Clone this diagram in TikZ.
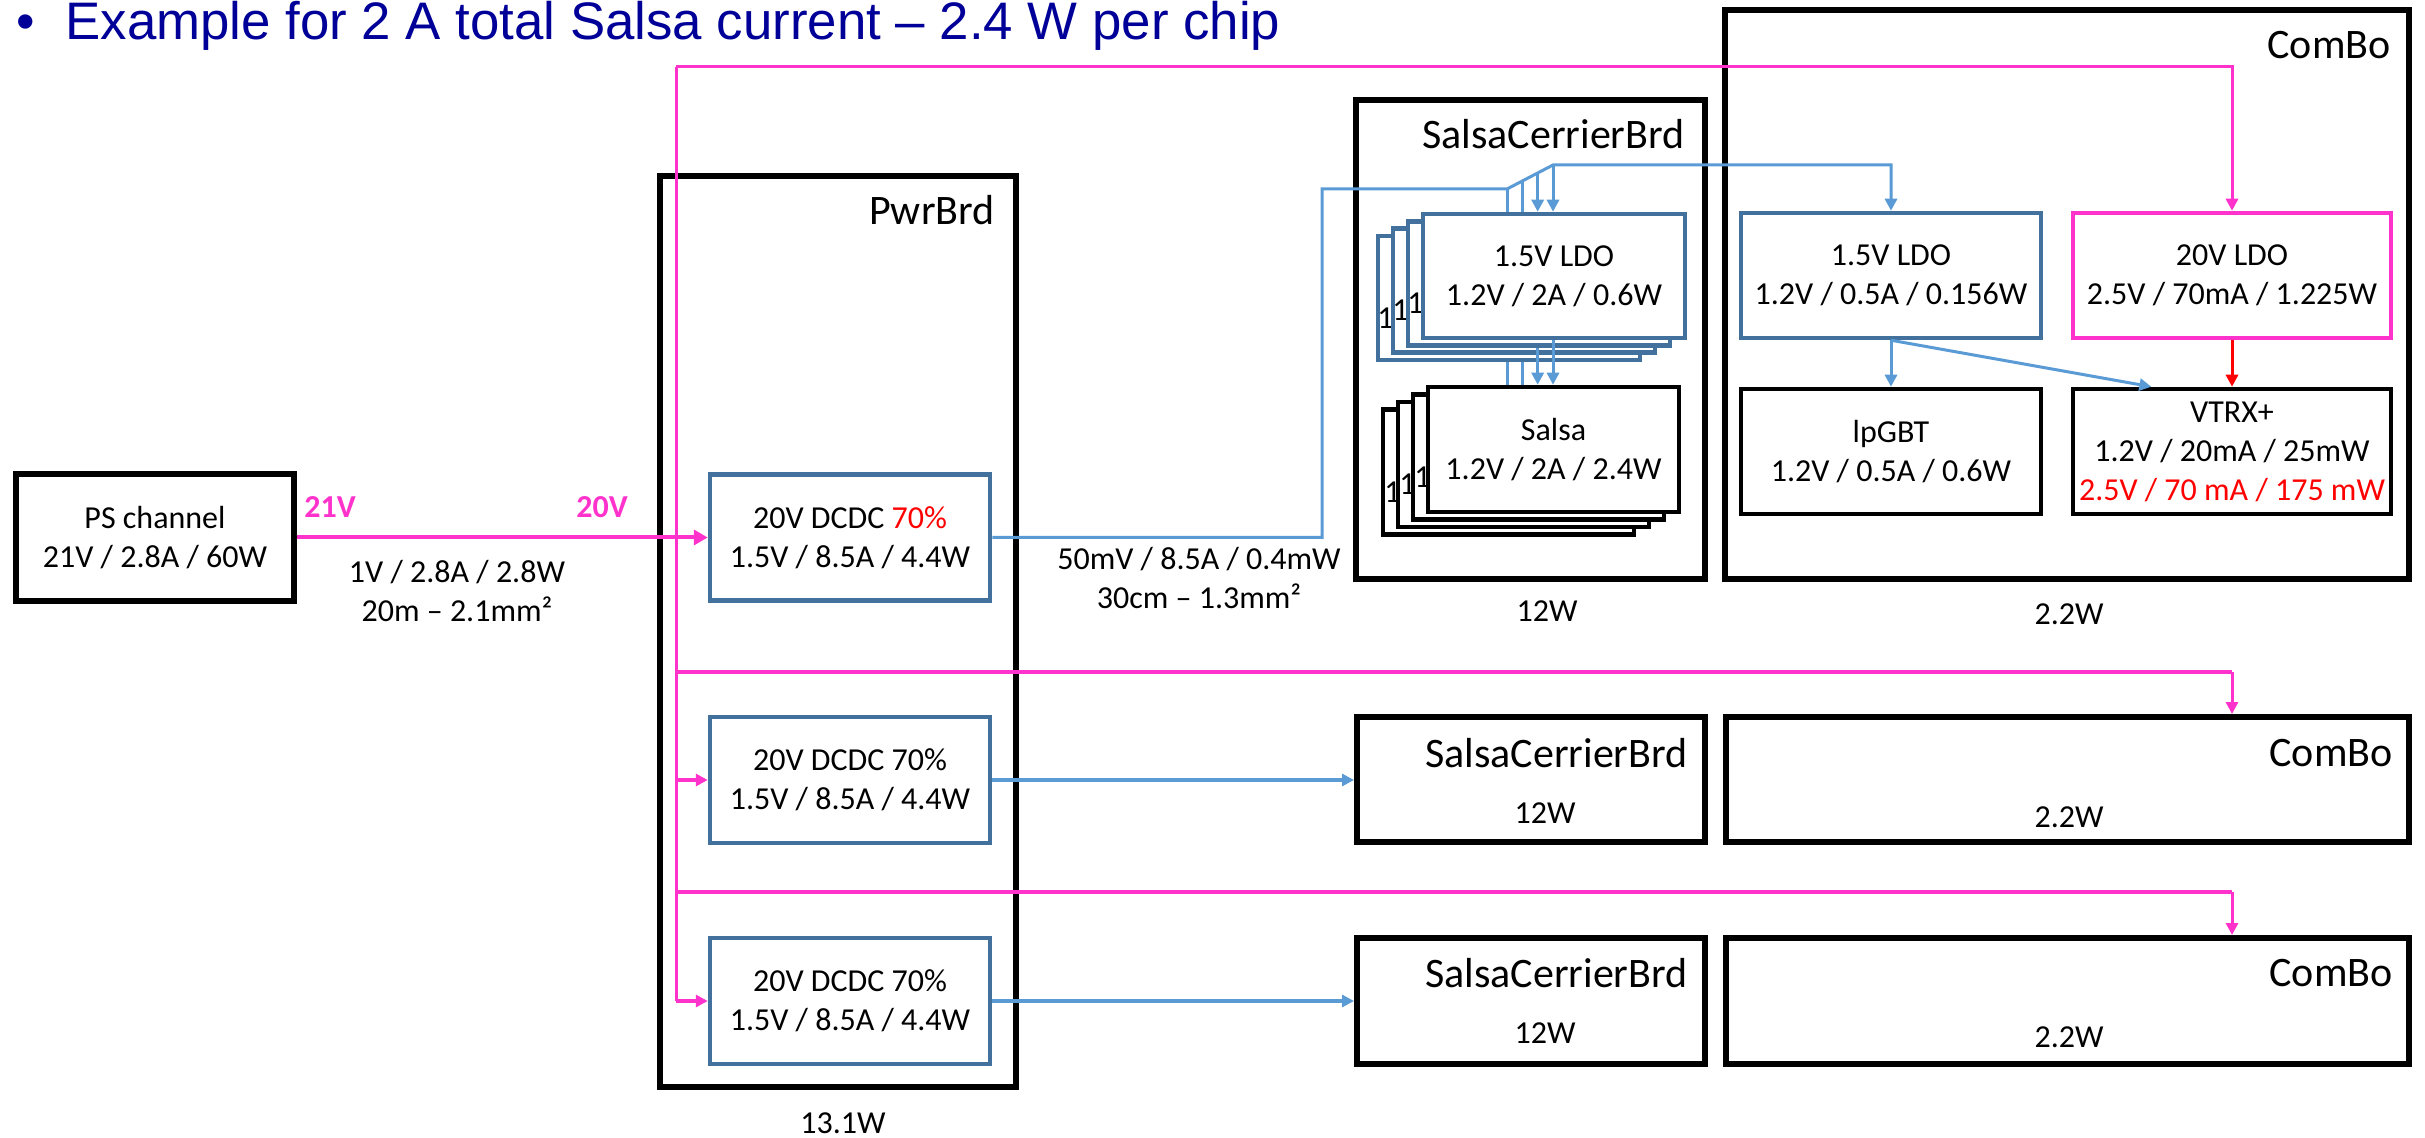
\documentclass[tikz,border=0pt]{standalone}
\usepackage{fontspec}
\setmainfont{Carlito}
\newfontfamily\titlefont{Liberation Sans}
\usetikzlibrary{arrows.meta,calc}
\definecolor{pwrpink}{HTML}{FF33CC}
\definecolor{feedblue}{HTML}{5B9BD5}
\definecolor{regblue}{HTML}{41719C}
\definecolor{titleblue}{HTML}{000099}
\tikzset{
  board/.style={draw=black, line width=3pt, fill=white, rectangle, inner sep=0pt},
  chip/.style={draw=black, line width=2.25pt, fill=white, rectangle, inner sep=0pt,
    align=center, font=\fontsize{16}{19.5}\selectfont},
  regbox/.style={chip, draw=regblue},
  hvbox/.style={chip, draw=pwrpink},
  boardlbl/.style={anchor=east, inner sep=0pt, font=\fontsize{21}{25}\selectfont},
  txt/.style={inner sep=0pt, align=center, font=\fontsize{16}{19.5}\selectfont},
  peek/.style={anchor=west, inner sep=0pt, font=\fontsize{16}{19.5}\selectfont},
  pink/.style={draw=pwrpink, line width=1.5pt},
  pinkbold/.style={draw=pwrpink, line width=2pt},
  feed/.style={draw=feedblue, line width=1.5pt},
  arrowed/.style={-{Triangle[length=6pt,width=6pt]}},
  bigarrowed/.style={-{Triangle[length=7pt,width=7.5pt]}},
}
\begin{document}
\begin{tikzpicture}[x=0.5pt,y=-0.5pt]
\fill[white] (0,0) rectangle (2425,1138);
\useasboundingbox (0,0) rectangle (2425,1138);

% heading
\node[anchor=base, inner sep=0pt, text=titleblue, font=\titlefont\fontsize{26.4}{30}\selectfont] (bullet) at (26,40) {•};
\node[anchor=base west, inner sep=0pt, text=titleblue, font=\titlefont\fontsize{26.4}{30}\selectfont] (title) at (65,40)
  {Example for 2 A total Salsa current – 2.4 W per chip};

% power supply
\node[chip, line width=3pt, minimum width=139pt, minimum height=63.5pt] (ps) at (155,537.5)
  {PS channel\\21V / 2.8A / 60W};

% boards
\node[board, minimum width=178pt, minimum height=455.5pt] (pwr) at (838,631.5) {};
\node[boardlbl] (pwr-t) at (995,210) {PwrBrd};
\node[txt] (pwr-w) at (843,1123) {13.1W};

\node[board, minimum width=174.5pt, minimum height=239.5pt] (scb1) at (1530.5,339.5) {};
\node[boardlbl] (scb1-t) at (1685,134) {SalsaCerrierBrd};
\node[txt] (scb1-w) at (1547,611) {12W};

\node[board, minimum width=342pt, minimum height=284.5pt] (cb1) at (2067,294.5) {};
\node[boardlbl] (cb1-t) at (2391,45) {ComBo};
\node[txt] (cb1-w) at (2069,614) {2.2W};

\node[board, minimum width=174pt, minimum height=62.5pt] (scb2) at (1531,779.5) {};
\node[boardlbl] (scb2-t) at (1688,753) {SalsaCerrierBrd};
\node[txt] (scb2-w) at (1545,813) {12W};
\node[board, minimum width=341.5pt, minimum height=62.5pt] (cb2) at (2067.5,779.5) {};
\node[boardlbl] (cb2-t) at (2393,753) {ComBo};
\node[txt] (cb2-w) at (2069,817) {2.2W};

\node[board, minimum width=174pt, minimum height=63pt] (scb3) at (1531,1001) {};
\node[boardlbl] (scb3-t) at (1688,973) {SalsaCerrierBrd};
\node[txt] (scb3-w) at (1545,1033) {12W};
\node[board, minimum width=341.5pt, minimum height=63pt] (cb3) at (2067.5,1001) {};
\node[boardlbl] (cb3-t) at (2393,973) {ComBo};
\node[txt] (cb3-w) at (2069,1037) {2.2W};

% DC-DC converters
\node[regbox, minimum width=140pt, minimum height=63pt] (dc1) at (850,537.5)
  {20V DCDC \textcolor{red}{70\%}\\1.5V / 8.5A / 4.4W};
\node[regbox, minimum width=140pt, minimum height=63pt] (dc2) at (850,780)
  {20V DCDC 70\%\\1.5V / 8.5A / 4.4W};
\node[regbox, minimum width=140pt, minimum height=63pt] (dc3) at (850,1001)
  {20V DCDC 70\%\\1.5V / 8.5A / 4.4W};

% stacked LDOs on the carrier board, back to front
\node[regbox, minimum width=131pt, minimum height=62pt] (ldo3) at (1509,297.9) {};
\node[peek] (ldo3-p) at (1377,318) {1};
\node[regbox, minimum width=131pt, minimum height=62pt] (ldo2) at (1524,290.6) {};
\node[peek] (ldo2-p) at (1392,310.6) {1};
\node[regbox, minimum width=131pt, minimum height=62pt] (ldo1) at (1539,283.3) {};
\node[peek] (ldo1-p) at (1407,303.3) {1};
\node[regbox, minimum width=131pt, minimum height=62pt] (ldo0) at (1554,276)
  {1.5V LDO\\1.2V / 2A / 0.6W};

% stacked Salsa chips, back to front
\node[chip, minimum width=125.5pt, minimum height=62.5pt] (salsa3) at (1508.5,472) {};
\node[peek] (salsa3-p) at (1384,492) {1};
\node[chip, minimum width=125.5pt, minimum height=62.5pt] (salsa2) at (1523.5,464.5) {};
\node[peek] (salsa2-p) at (1399,484.5) {1};
\node[chip, minimum width=125.5pt, minimum height=62.5pt] (salsa1) at (1538.5,457) {};
\node[peek] (salsa1-p) at (1414,477) {1};
\node[chip, minimum width=125.5pt, minimum height=62.5pt] (salsa0) at (1553.5,449.5)
  {Salsa\\1.2V / 2A / 2.4W};

% ComBo contents
\node[regbox, minimum width=150pt, minimum height=62.5pt] (cldo) at (1891,275.5)
  {1.5V LDO\\1.2V / 0.5A / 0.156W};
\node[hvbox, minimum width=159pt, minimum height=62.5pt] (hvldo) at (2232,275.5)
  {20V LDO\\2.5V / 70mA / 1.225W};
\node[chip, minimum width=150pt, minimum height=62.5pt] (lpgbt) at (1891,451.5)
  {lpGBT\\1.2V / 0.5A / 0.6W};
\node[chip, minimum width=159pt, minimum height=62.5pt] (vtrx) at (2232,451.5)
  {VTRX+\\1.2V / 20mA / 25mW\\\textcolor{red}{2.5V / 70 mA / 175 mW}};

% cable labels
\node[txt, text=pwrpink, font=\bfseries\fontsize{16}{19.5}\selectfont] (v21) at (330,507) {21V};
\node[txt, text=pwrpink, font=\bfseries\fontsize{16}{19.5}\selectfont] (v20) at (602,507) {20V};
\node[txt] (cable1) at (457,591) {1V / 2.8A / 2.8W\\20m – 2.1mm²};
\node[txt] (cable2) at (1199,578.5) {50mV / 8.5A / 0.4mW\\30cm – 1.3mm²};

% 20 V distribution
\coordinate (bustop) at (676,67);
\coordinate (br1) at (676,672);
\coordinate (br2) at (676,892);
\draw[pinkbold, bigarrowed] (ps.east) -- (dc1.west);
\draw[pink] (bustop) -- (bustop |- dc3.west);
\draw[pink, arrowed] (bustop) -| (hvldo.north);
\draw[pinkbold] (br1) -- (hvldo.center |- br1);
\draw[pink, arrowed] (hvldo.center |- br1) -- (hvldo.center |- cb2.north);
\draw[pinkbold] (br2) -- (hvldo.center |- br2);
\draw[pink, arrowed] (hvldo.center |- br2) -- (hvldo.center |- cb3.north);
\draw[pinkbold, arrowed] (bustop |- dc2.west) -- (dc2.west);
\draw[pinkbold, arrowed] (bustop |- dc3.west) -- (dc3.west);

% 1.5 V feed to the first carrier board and ComBo
\coordinate (j1) at (1322,189);
\coordinate (d1) at (1507,189);
\coordinate (d2) at (1553,165);
\coordinate (d12) at ($(d1)!1/3!(d2)$);
\coordinate (d13) at ($(d1)!2/3!(d2)$);
\draw[feed, arrowed] (dc1.east) -| (j1) -- (d1) -- (d2) -| (cldo.north);
\draw[feed] (d1) -- (d1 |- ldo0.north);
\draw[feed] (d12) -- (d12 |- ldo0.north);
\draw[feed, arrowed] (d13) -- (d13 |- ldo0.north);
\draw[feed, arrowed] (d2) -- (d2 |- ldo0.north);
\draw[feed] (d1 |- ldo3.south) -- (d1 |- salsa0.north);
\draw[feed] (d12 |- ldo3.south) -- (d12 |- salsa0.north);
\draw[feed, arrowed] (d13 |- ldo1.south) -- (d13 |- salsa0.north);
\draw[feed, arrowed] (d2 |- ldo0.south) -- (d2 |- salsa0.north);

% ComBo internal supplies
\draw[feed, arrowed] (cldo.south) -- (lpgbt.north);
\draw[feed, arrowed] (cldo.south) -- ($(vtrx.north west)!0.25!(vtrx.north east)$);
\draw[red, line width=1.5pt, arrowed] (hvldo.south) -- (vtrx.north);

% feeds to the other carrier boards
\draw[feedblue, line width=2pt, arrowed] (dc2.east) -- (scb2.west |- dc2.east);
\draw[feedblue, line width=2pt, arrowed] (dc3.east) -- (scb3.west |- dc3.east);
\end{tikzpicture}
\end{document}
